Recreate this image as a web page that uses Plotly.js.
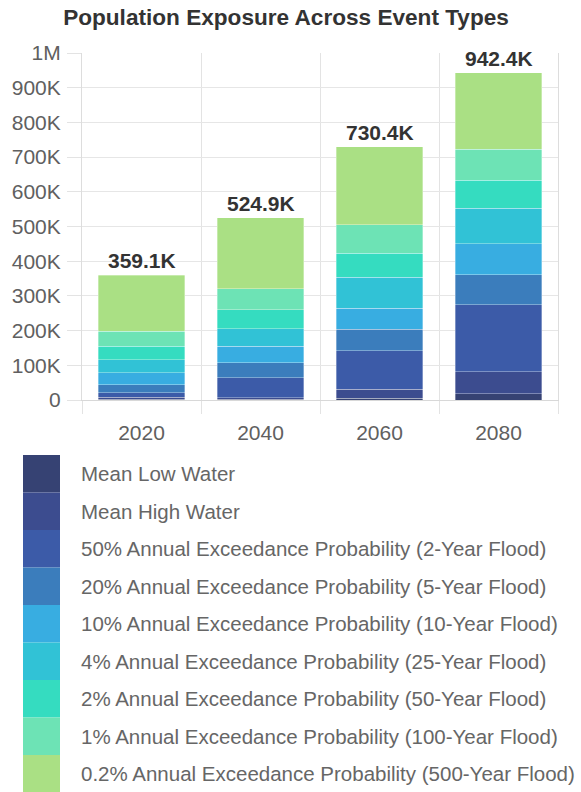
<!DOCTYPE html>
<html>
<head>
<meta charset="utf-8">
<script src="https://cdn.plot.ly/plotly-3.0.1.min.js"></script>
<style>
  html, body { margin: 0; padding: 0; background: #ffffff; }
  #chart { width: 581px; height: 792px; }
</style>
</head>
<body>
<div id="chart"></div>
<script>
// ---- Data ----
const categories = ['2020', '2040', '2060', '2080'];

const seriesNames = [
  'Mean Low Water',
  'Mean High Water',
  '50% Annual Exceedance Probability (2-Year Flood)',
  '20% Annual Exceedance Probability (5-Year Flood)',
  '10% Annual Exceedance Probability (10-Year Flood)',
  '4% Annual Exceedance Probability (25-Year Flood)',
  '2% Annual Exceedance Probability (50-Year Flood)',
  '1% Annual Exceedance Probability (100-Year Flood)',
  '0.2% Annual Exceedance Probability (500-Year Flood)'
];

const seriesColors = [
  '#364273', '#3c4c8f', '#3c5ba8', '#3b7dbc', '#38ade1',
  '#31c2d6', '#35dcc0', '#6de3b5', '#aae084'
];

const meanLowWater   = [2200, 1900, 5400, 18000];
const meanHighWater  = [6000, 5000, 25000, 64000];
const aep50          = [12000, 57000, 112000, 193000];
const aep20          = [24000, 43000, 62000, 86000];
const aep10          = [34000, 48000, 60000, 89000];
const aep4           = [38000, 50000, 89000, 103000];
const aep2           = [38500, 55000, 69000, 80000];
const aep1           = [43000, 60000, 82000, 90000];
const aep02          = [161400, 205000, 226000, 219400];

const yTickVals = [0, 100000, 200000, 300000, 400000, 500000, 600000, 700000, 800000, 900000, 1000000];
const yTickText = ['0', '100K', '200K', '300K', '400K', '500K', '600K', '700K', '800K', '900K', '1M'];

// ---- Build ----
const seriesValues = [meanLowWater, meanHighWater, aep50, aep20, aep10, aep4, aep2, aep1, aep02];

const FONT = 'Liberation Sans, Arial, sans-serif';

const traces = seriesValues.map((vals, i) => ({
  type: 'bar',
  name: seriesNames[i],
  x: categories,
  y: vals,
  marker: { color: seriesColors[i], line: { color: 'rgba(255,255,255,0.55)', width: 0.6 } },
  hoverinfo: 'x+y+name'
}));

const totals = categories.map((c, j) => seriesValues.reduce((s, arr) => s + arr[j], 0));

const annotations = categories.map((c, j) => ({
  x: j, y: totals[j], xref: 'x', yref: 'y',
  text: (Math.round(totals[j] / 100) / 10).toFixed(1) + 'K',
  showarrow: false, yanchor: 'bottom', yshift: 1,
  font: { family: FONT, size: 21, color: '#333333', weight: 'bold' }
}));

// Plot area in pixels (for the custom legend)
const W = 581, H = 792;
const M = { l: 82, r: 23, t: 53, b: 392 };
const pw = W - M.l - M.r, ph = H - M.t - M.b;
const px = v => (v - M.l) / pw;
const py = v => (H - M.b - v) / ph;

const shapes = [];
const legTop = 455, legStep = 37.5;
seriesNames.forEach((name, i) => {
  const y0 = legTop + i * legStep;
  shapes.push({
    type: 'rect', xref: 'paper', yref: 'paper',
    x0: px(23), x1: px(60), y0: py(y0), y1: py(y0 + legStep),
    fillcolor: seriesColors[i], line: { width: 0 }, layer: 'above'
  });
  annotations.push({
    xref: 'paper', yref: 'paper', x: px(79), y: py(y0 + legStep / 2),
    xanchor: 'left', yanchor: 'middle', showarrow: false,
    text: name, font: { family: FONT, size: 20.5, color: '#666666' }
  });
});

const layout = {
  width: W, height: H,
  margin: M,
  paper_bgcolor: '#ffffff', plot_bgcolor: '#ffffff',
  barmode: 'stack', bargap: 0.27,
  showlegend: false,
  title: {
    text: '<b>Population Exposure Across Event Types</b>',
    xref: 'container', yref: 'container',
    x: 286 / W, xanchor: 'center',
    y: 1 - 17 / H, yanchor: 'middle',
    font: { family: FONT, size: 22.6, color: '#333333' }
  },
  xaxis: {
    type: 'category',
    range: [-0.5, categories.length - 0.5],
    tickson: 'boundaries',
    showgrid: true, gridcolor: '#e3e3e3', gridwidth: 1,
    ticks: 'outside', ticklen: 13, tickcolor: '#e3e3e3', tickwidth: 1,
    showline: true, linecolor: '#d8d8d8', linewidth: 1,
    tickfont: { family: FONT, size: 21, color: '#606060' },
    tickangle: 0,
    ticklabelstandoff: 14,
    fixedrange: true
  },
  yaxis: {
    range: [0, 1000000],
    tickvals: yTickVals, ticktext: yTickText,
    showgrid: true, gridcolor: '#e6e6e6', gridwidth: 1,
    ticks: 'outside', ticklen: 14, tickcolor: '#e3e3e3', tickwidth: 1,
    showline: true, linecolor: '#dddddd', linewidth: 1, mirror: true,
    zeroline: false,
    tickfont: { family: FONT, size: 21, color: '#606060' },
    ticklabelstandoff: 2,
    fixedrange: true
  },
  annotations: annotations,
  shapes: shapes
};

Plotly.newPlot('chart', traces, layout, { displayModeBar: false, staticPlot: true });
</script>
</body>
</html>
